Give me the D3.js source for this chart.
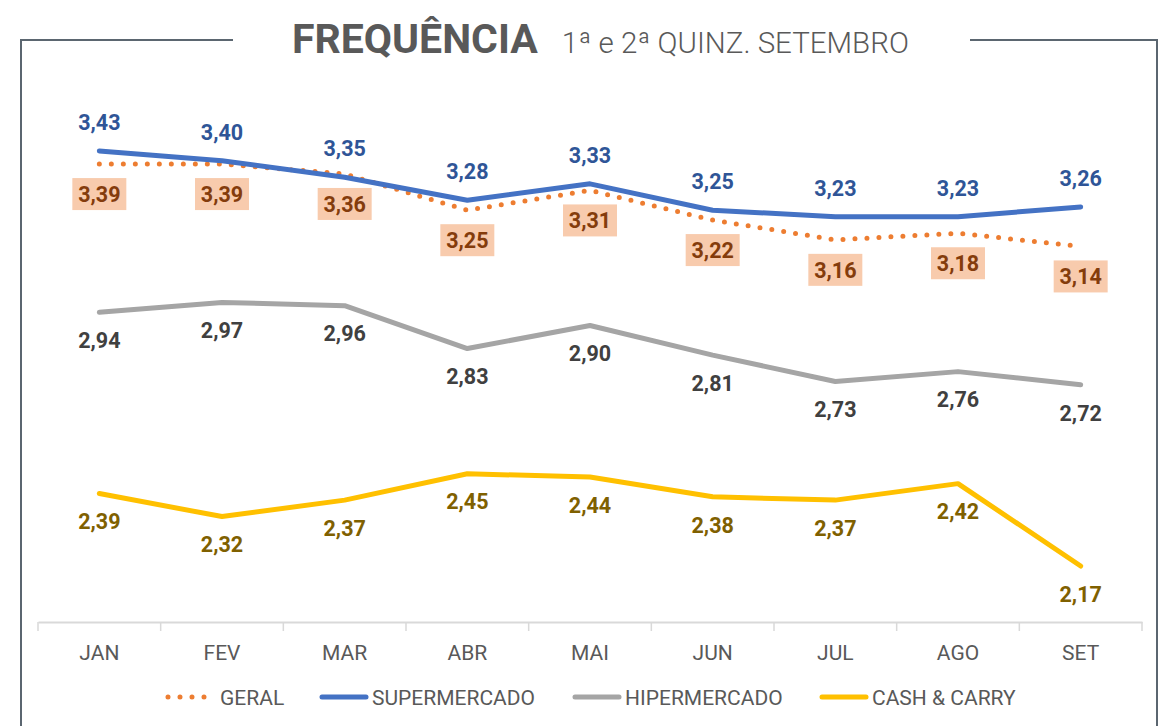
<!DOCTYPE html>
<html>
<head>
<meta charset="utf-8">
<script src="https://cdn.jsdelivr.net/npm/d3@7"></script>
<style>
  body { margin: 0; background: #fff; }
  svg text { font-family: Roboto, "Noto Sans", sans-serif; }
</style>
</head>
<body>
<div id="chart"></div>
<script>
// data
var months = ["JAN", "FEV", "MAR", "ABR", "MAI", "JUN", "JUL", "AGO", "SET"];
var geral = [3.39, 3.39, 3.36, 3.25, 3.31, 3.22, 3.16, 3.18, 3.14];
var supermercado = [3.43, 3.40, 3.35, 3.28, 3.33, 3.25, 3.23, 3.23, 3.26];
var hipermercado = [2.94, 2.97, 2.96, 2.83, 2.90, 2.81, 2.73, 2.76, 2.72];
var cashCarry = [2.39, 2.32, 2.37, 2.45, 2.44, 2.38, 2.37, 2.42, 2.17];

var svgWidth = 1163;
var svgHeight = 726;

var svg = d3.select("#chart")
  .append("svg")
  .attr("width", svgWidth)
  .attr("height", svgHeight);

// frame round the chart
var frameColor = "#5b6670";
svg.append("path")
  .attr("d", "M21,726 V40 H233")
  .attr("fill", "none")
  .attr("stroke", frameColor)
  .attr("stroke-width", 2);
svg.append("path")
  .attr("d", "M970,40 H1157 V726")
  .attr("fill", "none")
  .attr("stroke", frameColor)
  .attr("stroke-width", 2);

// title
var title = svg.append("text")
  .attr("x", 292)
  .attr("y", 53)
  .attr("fill", "#595959");
title.append("tspan")
  .attr("font-size", 41)
  .attr("font-weight", "bold")
  .text("FREQUÊNCIA");
title.append("tspan")
  .attr("dx", 24)
  .attr("font-size", 29.5)
  .attr("font-weight", 300)
  .text("1ª e 2ª QUINZ. SETEMBRO");

// scales
var xScale = d3.scaleBand()
  .domain(months)
  .range([38, 1142]);

var yScale = d3.scaleLinear()
  .domain([2.0, 3.8])
  .range([622, 29]);

var cx = d => xScale(d) + xScale.bandwidth() / 2;

// x axis
var xAxis = svg.append("g")
  .attr("transform", "translate(0, 622)")
  .call(d3.axisBottom(xScale).tickSize(0).tickPadding(23));
xAxis.select(".domain").attr("stroke", "#d9d9d9").attr("stroke-width", 2);
xAxis.selectAll("text")
  .attr("font-size", 21)
  .attr("fill", "#595959")
  .style("font-family", "Roboto, sans-serif");

// boundary ticks
var bounds = months.map(m => xScale(m)).concat([xScale.range()[1]]);
svg.append("g").selectAll("line")
  .data(bounds)
  .enter()
  .append("line")
  .attr("x1", d => d)
  .attr("x2", d => d)
  .attr("y1", 622)
  .attr("y2", 631)
  .attr("stroke", "#d9d9d9")
  .attr("stroke-width", 1.5);

var line = d3.line()
  .x((d, i) => cx(months[i]))
  .y(d => yScale(d));

var series = [
  { name: "CASH & CARRY", values: cashCarry, color: "#ffc000", label: "#7f6000", pos: 28 },
  { name: "HIPERMERCADO", values: hipermercado, color: "#a5a5a5", label: "#404040", pos: 28 },
  { name: "GERAL", values: geral, color: "#ed7d31", label: "#843c0c", pos: 30, dotted: true, box: true },
  { name: "SUPERMERCADO", values: supermercado, color: "#4472c4", label: "#2f5597", pos: -29 }
];

var fmt = v => v.toFixed(2).replace(".", ",");

// lines
series.forEach(function(s) {
  var p = svg.append("path")
    .datum(s.values)
    .attr("d", line)
    .attr("fill", "none")
    .attr("stroke", s.color)
    .attr("stroke-width", 5)
    .attr("stroke-linecap", "round")
    .attr("stroke-linejoin", "round");
  if (s.dotted) p.attr("stroke-dasharray", "0 12");
});

// data labels
series.forEach(function(s) {
  var g = svg.append("g");
  if (s.box) {
    g.selectAll("rect")
      .data(s.values)
      .enter()
      .append("rect")
      .attr("x", (d, i) => cx(months[i]) - 27)
      .attr("y", d => yScale(d) + s.pos - 16)
      .attr("width", 54)
      .attr("height", 32)
      .attr("fill", "#f8cbad");
  }
  g.selectAll("text")
    .data(s.values)
    .enter()
    .append("text")
    .attr("x", (d, i) => cx(months[i]))
    .attr("y", d => yScale(d) + s.pos)
    .attr("dy", "0.36em")
    .attr("text-anchor", "middle")
    .attr("font-size", 21.5)
    .attr("font-weight", "bold")
    .attr("fill", s.label)
    .text(fmt);
});

// legend
var legendItems = [
  { name: "GERAL", color: "#ed7d31", x: 165, dotted: true },
  { name: "SUPERMERCADO", color: "#4472c4", x: 320 },
  { name: "HIPERMERCADO", color: "#a5a5a5", x: 573 },
  { name: "CASH & CARRY", color: "#ffc000", x: 820 }
];
var legend = svg.append("g").attr("transform", "translate(0, 697)");
legendItems.forEach(function(d) {
  var l = legend.append("line")
    .attr("x1", d.dotted ? d.x + 3 : d.x + 2)
    .attr("x2", d.dotted ? d.x + 44 : d.x + 46)
    .attr("y1", 0)
    .attr("y2", 0)
    .attr("stroke", d.color)
    .attr("stroke-width", 5)
    .attr("stroke-linecap", "round");
  if (d.dotted) l.attr("stroke-dasharray", "0 12");
  legend.append("text")
    .attr("x", d.dotted ? d.x + 55 : d.x + 52)
    .attr("y", 0)
    .attr("dy", "0.36em")
    .attr("font-size", 21)
    .attr("fill", "#595959")
    .text(d.name);
});
</script>
</body>
</html>
